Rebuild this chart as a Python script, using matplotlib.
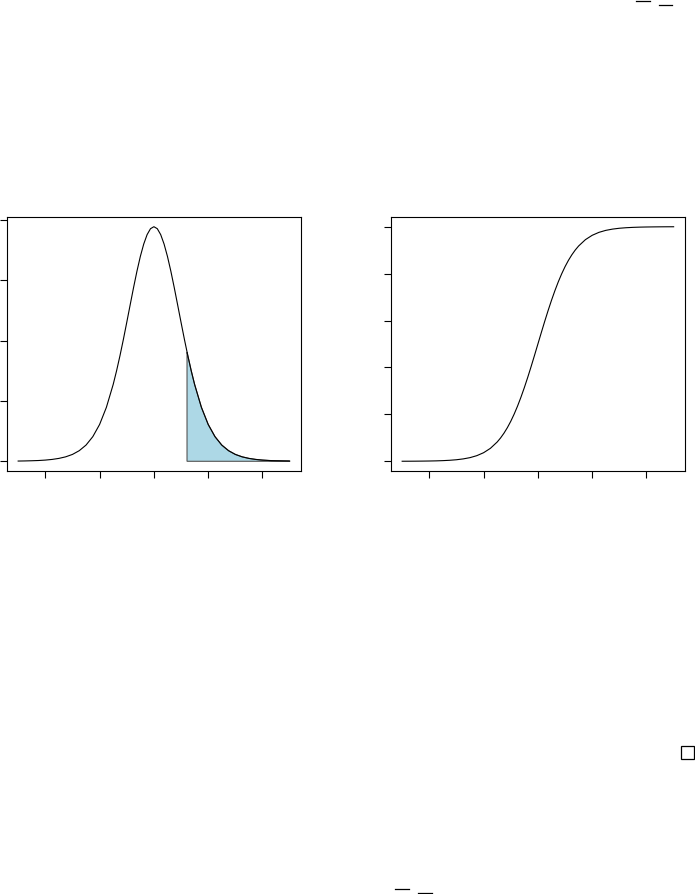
import matplotlib
matplotlib.use("Agg")
import matplotlib.pyplot as plt
from matplotlib.lines import Line2D
from matplotlib.patches import Rectangle

# t density / cdf values (df ~ 10)
x_vals = [-5.0, -4.75, -4.5, -4.25, -4.0, -3.75, -3.5, -3.25, -3.0, -2.75, -2.5,
          -2.25, -2.0, -1.75, -1.5, -1.375, -1.25, -1.125, -1.0, -0.875, -0.75,
          -0.625, -0.5, -0.375, -0.25, -0.125, 0.0,
          0.125, 0.25, 0.375, 0.5, 0.625, 0.75, 0.875, 1.0, 1.125, 1.25,
          1.375, 1.5, 1.75, 2.0, 2.25, 2.5,
          2.75, 3.0, 3.25, 3.5, 3.75, 4.0, 4.25, 4.5, 4.75, 5.0]
pdf_vals = [0.0004, 0.0006, 0.0009, 0.0013, 0.0020, 0.0031, 0.0048, 0.0074, 0.0114, 0.0176, 0.0269,
            0.0409, 0.0611, 0.0895, 0.1274, 0.1501, 0.1751, 0.2020, 0.2304, 0.2593, 0.2880,
            0.3152, 0.3397, 0.3603, 0.3760, 0.3858, 0.3891,
            0.3858, 0.3760, 0.3603, 0.3397, 0.3152, 0.2880, 0.2593, 0.2304, 0.2020, 0.1751,
            0.1501, 0.1274, 0.0895, 0.0611, 0.0409, 0.0269,
            0.0176, 0.0114, 0.0074, 0.0048, 0.0031, 0.0020, 0.0013, 0.0009, 0.0006, 0.0004]
cdf_vals = [0.0003, 0.0004, 0.0006, 0.0009, 0.0013, 0.0019, 0.0029, 0.0044, 0.0067, 0.0103, 0.0157,
            0.0241, 0.0367, 0.0553, 0.0823, 0.0996, 0.1199, 0.1434, 0.1704, 0.2011, 0.2353,
            0.2731, 0.3140, 0.3578, 0.4038, 0.4515, 0.5000,
            0.5485, 0.5962, 0.6422, 0.6860, 0.7269, 0.7647, 0.7989, 0.8296, 0.8566, 0.8801,
            0.9004, 0.9177, 0.9447, 0.9633, 0.9759, 0.9843,
            0.9897, 0.9933, 0.9956, 0.9971, 0.9981, 0.9987, 0.9991, 0.9994, 0.9996, 0.9997]

cutoff = 1.22
cutoff_pdf = 0.181

xticks_pdf = [-4, -2, 0, 2, 4]
yticks_pdf = [0.0, 0.1, 0.2, 0.3, 0.4]
yticks_cdf = [0.0, 0.2, 0.4, 0.6, 0.8, 1.0]

W, H = 695, 894
fig = plt.figure(figsize=(W / 100, H / 100), dpi=100)


def px_axes(x0, y0, x1, y1):
    return fig.add_axes([x0 / W, 1 - y1 / H, (x1 - x0) / W, (y1 - y0) / H])


def style(ax, yticks, ylim):
    ax.set_xlim(-5.4, 5.4)
    ax.set_ylim(*ylim)
    ax.set_xticks(xticks_pdf)
    ax.set_yticks(yticks)
    ax.set_xticklabels([])
    ax.set_yticklabels([])
    ax.tick_params(direction="out", length=5, width=0.8, color="black")
    for s in ax.spines.values():
        s.set_linewidth(0.8)


ax1 = px_axes(7.3, 217.3, 300.5, 470.7)
shade_x = [cutoff] + [v for v in x_vals if v > cutoff]
shade_y = [cutoff_pdf] + [p for v, p in zip(x_vals, pdf_vals) if v > cutoff]
ax1.fill(shade_x + [shade_x[-1], cutoff], shade_y + [0, 0],
         facecolor="#add8e6", edgecolor="#555555", linewidth=0.8)
ax1.plot(x_vals, pdf_vals, color="black", linewidth=0.8)
style(ax1, yticks_pdf, (-0.0156, 0.4047))

ax2 = px_axes(391.3, 217.3, 684.5, 470.7)
ax2.plot(x_vals, cdf_vals, color="black", linewidth=0.8)
style(ax2, yticks_cdf, (-0.04, 1.04))

# leftover overline marks and box from the original text
for (a, b, y) in [(636, 650, 1), (659, 672, 5), (395, 409, 889), (418, 432, 893)]:
    fig.add_artist(Line2D([a / W, b / W], [1 - y / H, 1 - y / H], color="black", linewidth=0.9))
fig.add_artist(Rectangle((681 / W, 1 - 759 / H), 13 / W, 13 / H, fill=False,
                         edgecolor="black", linewidth=0.9))

fig.savefig("out.png", dpi=100)
